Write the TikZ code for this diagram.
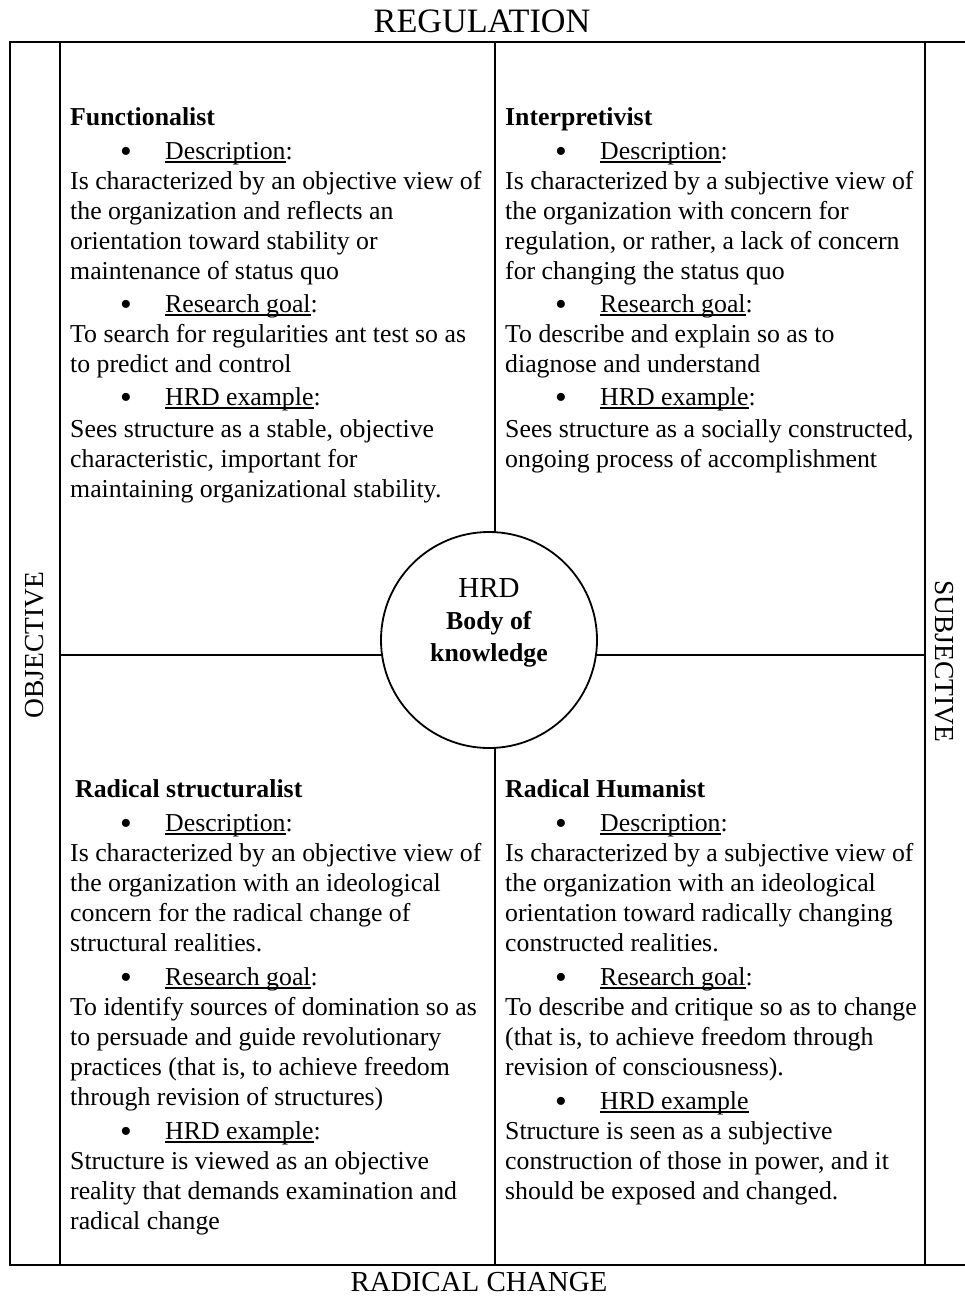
\documentclass[tikz,border=0pt]{standalone}
\usepackage{fontspec}
\setmainfont{Liberation Serif}
\newcommand\ulx[1]{\setbox0\hbox{#1}\rlap{\rule[-3.5pt]{\wd0}{1.3pt}}\box0}
\newcommand\bul[1]{\hspace*{50pt}\makebox[45pt][l]{\raisebox{-3pt}{\scalebox{1.3}{\textbullet}}}\ulx{#1}}
\begin{document}
\begin{tikzpicture}[x=1pt,y=-1pt,
  frame/.style={line width=2.2pt},
  body/.style={anchor=north west, align=left, inner sep=0pt, font=\fontsize{25.8}{30}\selectfont},
  axis/.style={inner sep=0pt}]
\useasboundingbox (0,0) rectangle (965,1298);
% frame and grid
\draw[frame] (966,42) -- (10,42) -- (10,1265) -- (966,1265);
\draw[frame] (60,42) -- (60,1265);
\draw[frame] (925,42) -- (925,1265);
\draw[frame] (495,42) -- (495,1265);
\draw[frame] (60,655) -- (925,655);
% centre circle
\node[circle, draw, line width=1.8pt, fill=white, minimum size=216pt, inner sep=0pt] (hrd) at (489,640) {};
\node[align=center, inner sep=0pt, font=\fontsize{25.8}{32}\selectfont] (hrdtext) at (489,623) {{\fontsize{29}{32}\selectfont HRD}\\\textbf{Body of}\\\textbf{knowledge}};
% axis labels
\node[axis, font=\fontsize{34.2}{36}\selectfont] (reg) at (482,21) {REGULATION};
\node[axis, font=\fontsize{29}{34}\selectfont] (rad) at (479,1282) {RADICAL CHANGE};
\node[axis, rotate=90, font=\fontsize{27.5}{30}\selectfont] (obj) at (35,645) {OBJECTIVE};
\node[axis, rotate=-90, font=\fontsize{27.5}{30}\selectfont] (subj) at (944,661) {SUBJECTIVE};
% quadrants
\node[body] (tl) at (70,107) {\textbf{Functionalist}\\[4pt]
\bul{Description}:\\
Is characterized by an objective view of\\
the organization and reflects an\\
orientation toward stability or\\
maintenance of status quo\\[3pt]
\bul{Research goal}:\\
To search for regularities ant test so as\\
to predict and control\\[3pt]
\bul{HRD example}:\\[2pt]
Sees structure as a stable, objective\\
characteristic, important for\\
maintaining organizational stability.};
\node[body] (tr) at (505,107) {\textbf{Interpretivist}\\[4pt]
\bul{Description}:\\
Is characterized by a subjective view of\\
the organization with concern for\\
regulation, or rather, a lack of concern\\
for changing the status quo\\[3pt]
\bul{Research goal}:\\
To describe and explain so as to\\
diagnose and understand\\[3pt]
\bul{HRD example}:\\[2pt]
Sees structure as a socially constructed,\\
ongoing process of accomplishment};
\node[body] (bl) at (70,779) {\hspace*{5pt}\textbf{Radical structuralist}\\[4pt]
\bul{Description}:\\
Is characterized by an objective view of\\
the organization with an ideological\\
concern for the radical change of\\
structural realities.\\[4pt]
\bul{Research goal}:\\
To identify sources of domination so as\\
to persuade and guide revolutionary\\
practices (that is, to achieve freedom\\
through revision of structures)\\[4pt]
\bul{HRD example}:\\
Structure is viewed as an objective\\
reality that demands examination and\\
radical change};
\node[body] (br) at (505,779) {\textbf{Radical Humanist}\\[4pt]
\bul{Description}:\\
Is characterized by a subjective view of\\
the organization with an ideological\\
orientation toward radically changing\\
constructed realities.\\[4pt]
\bul{Research goal}:\\
To describe and critique so as to change\\
(that is, to achieve freedom through\\
revision of consciousness).\\[4pt]
\bul{HRD example}\\
Structure is seen as a subjective\\
construction of those in power, and it\\
should be exposed and changed.};
\end{tikzpicture}
\end{document}
